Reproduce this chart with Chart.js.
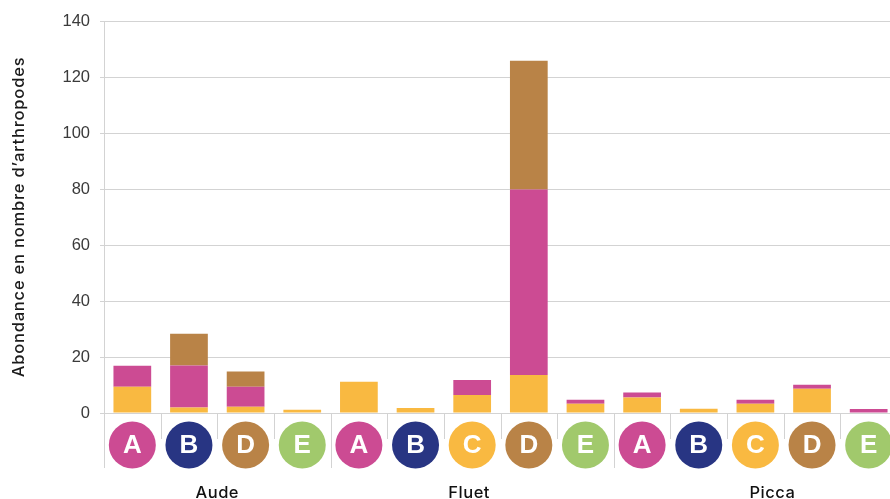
<!DOCTYPE html>
<html>
<head>
<meta charset="utf-8">
<script src="https://cdn.jsdelivr.net/npm/chart.js@4.4.1/dist/chart.umd.min.js"></script>
<style>
  html, body { margin: 0; padding: 0; background: #fff; overflow: hidden; }
  #wrap { width: 890px; height: 499px; overflow: hidden; }
</style>
</head>
<body>
<div id="wrap"><canvas id="c" width="897" height="499"></canvas></div>
<script>
// ---- data ----
const categories = ['A','B','D','E','A','B','C','D','E','A','B','C','D','E'];
const groupNames = ['Aude', 'Fluet', 'Picca'];
const groupStart = [0, 4, 9];
const groupEnd   = [3, 8, 13];
const seriesYellow = [9.4, 2.0, 2.2, 1.2, 11.2, 1.8, 6.4, 13.6, 3.3, 5.5, 1.5, 3.3, 8.7, 0];
const seriesPink   = [7.5, 15.0, 7.2, 0, 0, 0, 5.4, 66.2, 1.4, 1.8, 0, 1.4, 1.4, 1.4];
const seriesBrown  = [0, 11.3, 5.4, 0, 0, 0, 0, 46.0, 0, 0, 0, 0, 0, 0];
const yTicks = [0, 20, 40, 60, 80, 100, 120, 140];
const yTitle = 'Abondance en nombre d’arthropodes';

// ---- styles ----
const letterColors = { A: '#CC4B93', B: '#283583', C: '#F9B941', D: '#B98347', E: '#A1C96C' };
const gridColor = '#D3D3D3';
const FONT = '"Liberation Sans", Arial, Helvetica, sans-serif';
const TEXT_FONT = 'Inter, "Liberation Sans", Arial, sans-serif';

const categoryAxisPlugin = {
  id: 'categoryAxis',
  afterDraw(chart, args, opts) {
    const ctx = chart.ctx;
    const x = chart.scales.x;
    const area = chart.chartArea;
    const base = area.bottom;
    const step = x.getPixelForValue(1) - x.getPixelForValue(0);
    ctx.save();
    // separators
    ctx.strokeStyle = gridColor;
    ctx.lineWidth = 1;
    const groupBounds = new Set(groupStart);
    for (let i = 0; i <= categories.length; i++) {
      const px = Math.round(x.getPixelForValue(i) - step / 2) + 0.5;
      const long = groupBounds.has(i);
      ctx.beginPath();
      ctx.moveTo(px, base);
      ctx.lineTo(px, base + (long ? 55 : 26));
      ctx.stroke();
    }
    // circles + letters
    categories.forEach((cat, i) => {
      const cx = x.getPixelForValue(i);
      const cy = base + 32;
      ctx.beginPath();
      ctx.arc(cx, cy, 23.5, 0, Math.PI * 2);
      ctx.fillStyle = letterColors[cat];
      ctx.fill();
      ctx.fillStyle = '#fff';
      ctx.font = 'bold 26px ' + FONT;
      ctx.textAlign = 'center';
      ctx.textBaseline = 'middle';
      ctx.fillText(cat, cx, cy + 1);
    });
    // group labels
    ctx.fillStyle = '#111';
    ctx.font = '500 16.5px ' + TEXT_FONT;
    ctx.letterSpacing = '0.5px';
    ctx.textAlign = 'center';
    ctx.textBaseline = 'alphabetic';
    const dx = opts.labelDx || [];
    groupNames.forEach((g, k) => {
      const cx = (x.getPixelForValue(groupStart[k]) + x.getPixelForValue(groupEnd[k])) / 2 + (dx[k] || 0);
      ctx.fillText(g, cx, 498);
    });
    // y axis title
    ctx.save();
    ctx.translate(19.5, (area.top + area.bottom) / 2);
    ctx.rotate(-Math.PI / 2);
    ctx.fillStyle = '#1a1a1a';
    ctx.font = '500 16.5px ' + TEXT_FONT;
    ctx.letterSpacing = '0.8px';
    ctx.textAlign = 'center';
    ctx.textBaseline = 'middle';
    ctx.fillText(yTitle, 0, 0);
    ctx.restore();
    ctx.restore();
  }
};

new Chart(document.getElementById('c'), {
  type: 'bar',
  data: {
    labels: categories.map((c, i) => c + i),
    datasets: [
      { label: 'Série 1', data: seriesYellow, backgroundColor: '#F9B941' },
      { label: 'Série 2', data: seriesPink, backgroundColor: '#CC4B93' },
      { label: 'Série 3', data: seriesBrown, backgroundColor: '#B98347' }
    ]
  },
  options: {
    responsive: false,
    animation: false,
    layout: { padding: { top: 21, bottom: 86, left: 0, right: 0 } },
    plugins: {
      legend: { display: false },
      tooltip: { enabled: false },
      categoryAxis: { labelDx: [0, -3, 17] }
    },
    datasets: { bar: { barPercentage: 0.666, categoryPercentage: 1.0 } },
    scales: {
      x: {
        stacked: true,
        display: false,
        offset: true
      },
      y: {
        stacked: true,
        min: 0,
        max: 140,
        afterBuildTicks(scale) { scale.ticks = yTicks.map(v => ({ value: v })); },
        afterFit(scale) { scale.width = 104; },
        grid: { color: gridColor, tickLength: 4, lineWidth: 1 },
        border: { display: true, color: gridColor },
        ticks: { color: '#3a3a3a', padding: 10, font: { family: FONT, size: 16.5 } },
        title: { display: false }
      }
    }
  },
  plugins: [categoryAxisPlugin]
});
</script>
</body>
</html>
